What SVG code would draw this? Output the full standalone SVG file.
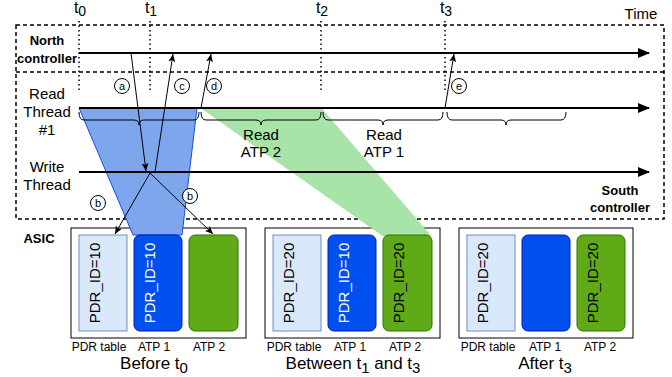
<svg xmlns="http://www.w3.org/2000/svg" width="672" height="377" viewBox="0 0 672 377">
<style>
text{font-family:"Liberation Sans",Arial,sans-serif;fill:#000}
.lbl{font-size:15px;text-anchor:middle}
.tt{font-size:16px;text-anchor:middle}
.bold{font-size:13px;font-weight:bold;text-anchor:middle}
.small{font-size:12px;text-anchor:middle}
.cap{font-size:17px;text-anchor:middle}
.circ{font-size:11px;text-anchor:middle}
.dash{fill:none;stroke:#000;stroke-width:1.5;stroke-dasharray:4 3}
.dot{fill:none;stroke:#000;stroke-width:1.5;stroke-dasharray:1.5 3}
.tl{fill:none;stroke:#000;stroke-width:2.2}
.ar{fill:none;stroke:#000;stroke-width:1}
.brace{fill:none;stroke:#000;stroke-width:1}
.circle{fill:#fff;stroke:#000;stroke-width:1}
.panel{fill:#fff;stroke:#000;stroke-width:1}
.pdr{fill:#dae8fc;stroke:#6c8ebf;stroke-width:1}
.atp1{fill:#0050ef;stroke:#001dbc;stroke-width:1}
.atp2{fill:#60a917;stroke:#2d7600;stroke-width:1}
.vt{font-size:15px;text-anchor:middle}
</style>
<defs>
<marker id="big" viewBox="0 0 12 10" refX="11" refY="5" markerWidth="12" markerHeight="10" markerUnits="userSpaceOnUse" orient="auto">
<path d="M0,0 L12,5 L0,10 Z" fill="#000"/>
</marker>
<marker id="sm" viewBox="0 0 8 8" refX="8" refY="4" markerWidth="8" markerHeight="8" markerUnits="userSpaceOnUse" orient="auto">
<path d="M0,0.5 L8,4 L0,7.5 L2,4 Z" fill="#000"/>
</marker>
</defs>

<g id="frame">
<path class="dash" d="M16,25 H664 V219 H16 Z"/>
<path class="dash" d="M16,72 H664"/>
</g>

<g id="asic-panels">
<rect class="panel" x="71" y="228" width="175" height="110"/>
<rect class="panel" x="265" y="228" width="175" height="110"/>
<rect class="panel" x="459" y="228" width="174" height="110"/>
</g>

<g id="regions">
<polygon points="79,108 197,108 182,235 133,235" fill="#7ea6ec" stroke="#1d4de0" stroke-width="1"/>
<polygon points="201,108 321,108 431,236 383,236" fill="#a8e4a8" stroke="#9ad89a" stroke-width="0.5"/>
</g>

<g id="time-markers">
<path class="dot" d="M79,21 V93 M150,21 V93 M321,21 V93 M445,21 V93"/>
<text class="tt" x="80" y="13">t<tspan font-size="14" dy="3">0</tspan></text>
<text class="tt" x="151" y="13">t<tspan font-size="14" dy="3">1</tspan></text>
<text class="tt" x="322" y="13">t<tspan font-size="14" dy="3">2</tspan></text>
<text class="tt" x="446" y="13">t<tspan font-size="14" dy="3">3</tspan></text>
<text class="lbl" x="641" y="19">Time</text>
</g>

<g id="timelines">
<line class="tl" x1="79" y1="53" x2="649" y2="53" marker-end="url(#big)"/>
<line class="tl" x1="79" y1="108" x2="649" y2="108" marker-end="url(#big)"/>
<line class="tl" x1="79" y1="172" x2="649" y2="172" marker-end="url(#big)"/>
</g>

<g id="braces">
<path class="brace" d="M79,112 Q79,120 84,120 H134 Q139,120 139,125 Q139,120 144,120 H194 Q199,120 199,112"/>
<path class="brace" d="M201,112 Q201,120 206,120 H256 Q261,120 261,125 Q261,120 266,120 H316 Q321,120 321,112"/>
<path class="brace" d="M323,112 Q323,120 328,120 H378 Q383,120 383,125 Q383,120 388,120 H438 Q443,120 443,112"/>
<path class="brace" d="M447,112 Q447,120 452,120 H501 Q506,120 506,125 Q506,120 511,120 H561 Q566,120 566,112"/>
</g>

<g id="connectors">
<line class="ar" x1="131" y1="53" x2="146" y2="171" marker-end="url(#sm)"/>
<line class="ar" x1="155" y1="172" x2="173" y2="54" marker-end="url(#sm)"/>
<line class="ar" x1="201" y1="108" x2="211" y2="54" marker-end="url(#sm)"/>
<line class="ar" x1="445" y1="108" x2="454" y2="54" marker-end="url(#sm)"/>
<line class="ar" x1="150" y1="173" x2="115" y2="234" marker-end="url(#sm)"/>
<line class="ar" x1="150" y1="173" x2="213" y2="234" marker-end="url(#sm)"/>
</g>

<g id="step-labels">
<circle class="circle" cx="122" cy="86" r="7.5"/><text class="circ" x="122" y="90">a</text>
<circle class="circle" cx="182" cy="86" r="7.5"/><text class="circ" x="182" y="90">c</text>
<circle class="circle" cx="214" cy="86" r="7.5"/><text class="circ" x="214" y="90">d</text>
<circle class="circle" cx="459" cy="86" r="7.5"/><text class="circ" x="459" y="90">e</text>
<circle class="circle" cx="98" cy="203" r="7.5"/><text class="circ" x="98" y="207">b</text>
<circle class="circle" cx="190" cy="196" r="7.5"/><text class="circ" x="190" y="200">b</text>
</g>

<g id="row-labels">
<text class="bold" x="47" y="45">North</text>
<text class="bold" x="47" y="63">controller</text>
<text class="lbl" x="47" y="99">Read</text>
<text class="lbl" x="47" y="117">Thread</text>
<text class="lbl" x="47" y="135">#1</text>
<text class="lbl" x="47" y="172">Write</text>
<text class="lbl" x="47" y="190">Thread</text>
<text class="bold" x="620" y="195">South</text>
<text class="bold" x="620" y="212">controller</text>
<text class="bold" x="39" y="243">ASIC</text>
<text class="lbl" x="261" y="140">Read</text>
<text class="lbl" x="261" y="157">ATP 2</text>
<text class="lbl" x="384" y="140">Read</text>
<text class="lbl" x="384" y="157">ATP 1</text>
</g>

<g id="panel-before">
<rect class="pdr" x="79" y="235" width="48" height="96"/>
<rect class="atp1" x="134" y="235" width="48" height="96" rx="6"/>
<rect class="atp2" x="189" y="235" width="49" height="96" rx="6"/>
<text class="vt" transform="translate(100,283) rotate(-90)">PDR_ID=10</text>
<text class="vt" transform="translate(155,283) rotate(-90)" style="fill:#fff">PDR_ID=10</text>
<text class="small" x="99" y="351">PDR table</text>
<text class="small" x="154" y="351">ATP 1</text>
<text class="small" x="209" y="351">ATP 2</text>
<text class="cap" x="154" y="369">Before t<tspan font-size="15" dy="4">0</tspan></text>
</g>

<g id="panel-between">
<rect class="pdr" x="273" y="235" width="48" height="96"/>
<rect class="atp1" x="328" y="235" width="48" height="96" rx="6"/>
<rect class="atp2" x="383" y="235" width="49" height="96" rx="6"/>
<text class="vt" transform="translate(294,283) rotate(-90)">PDR_ID=20</text>
<text class="vt" transform="translate(349,283) rotate(-90)" style="fill:#fff">PDR_ID=10</text>
<text class="vt" transform="translate(404,283) rotate(-90)">PDR_ID=20</text>
<text class="small" x="294" y="351">PDR table</text>
<text class="small" x="350" y="351">ATP 1</text>
<text class="small" x="405" y="351">ATP 2</text>
<text class="cap" x="353" y="369">Between t<tspan font-size="15" dy="4">1</tspan><tspan dy="-4"> and t</tspan><tspan font-size="15" dy="4">3</tspan></text>
</g>

<g id="panel-after">
<rect class="pdr" x="467" y="235" width="48" height="96"/>
<rect class="atp1" x="522" y="235" width="48" height="96" rx="6"/>
<rect class="atp2" x="577" y="235" width="48" height="96" rx="6"/>
<text class="vt" transform="translate(488,283) rotate(-90)">PDR_ID=20</text>
<text class="vt" transform="translate(598,283) rotate(-90)">PDR_ID=20</text>
<text class="small" x="488" y="351">PDR table</text>
<text class="small" x="545" y="351">ATP 1</text>
<text class="small" x="600" y="351">ATP 2</text>
<text class="cap" x="545" y="369">After t<tspan font-size="15" dy="4">3</tspan></text>
</g>
</svg>
